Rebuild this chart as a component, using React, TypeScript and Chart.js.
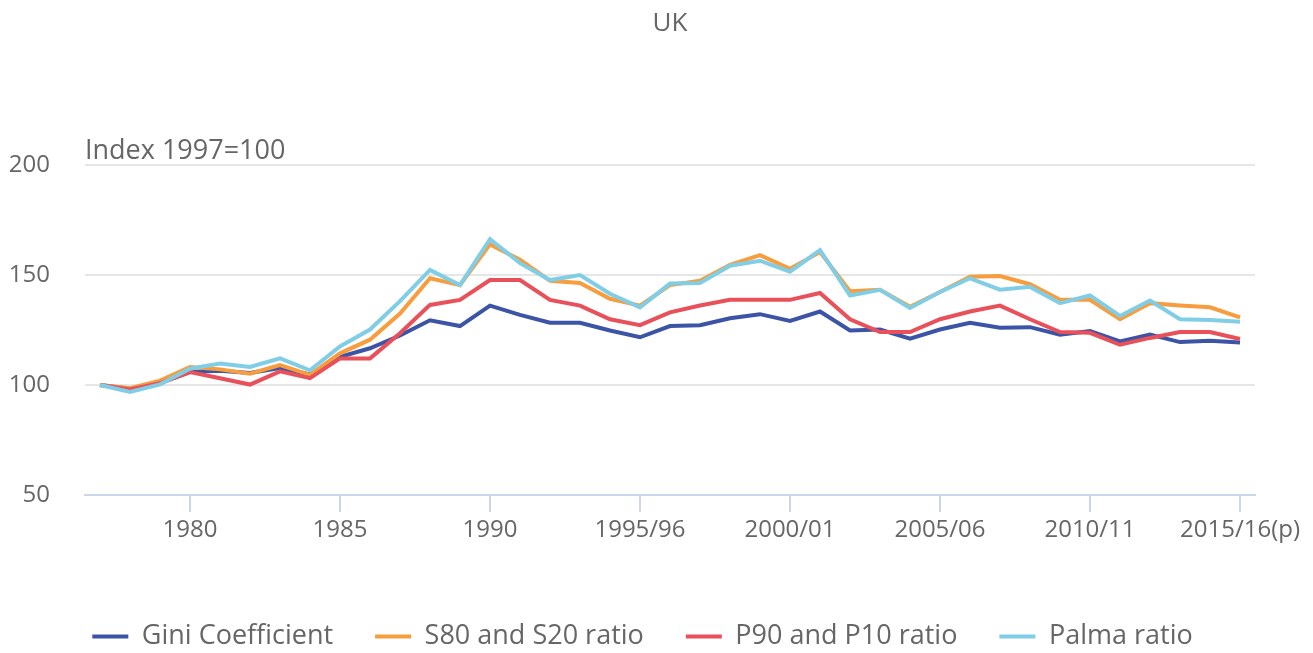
import { useEffect, useRef } from 'react';
import { Chart, registerables } from 'chart.js';

Chart.register(...registerables);

const chartTitle = 'UK';
const yAxisLabel = 'Index 1997=100';

const categories = [
  '1977', '1978', '1979', '1980', '1981', '1982', '1983', '1984', '1985', '1986',
  '1987', '1988', '1989', '1990', '1991', '1992', '1993', '1994/95', '1995/96', '1996/97',
  '1997/98', '1998/99', '1999/00', '2000/01', '2001/02', '2002/03', '2003/04', '2004/05', '2005/06', '2006/07',
  '2007/08', '2008/09', '2009/10', '2010/11', '2011/12', '2012/13', '2013/14', '2014/15', '2015/16(p)',
];

const tickLabels = ['1980', '1985', '1990', '1995/96', '2000/01', '2005/06', '2010/11', '2015/16(p)'];

const gini = [
  100, 98.3, 101, 105.9, 106.5, 105.5, 107.7, 104.8, 112.8, 116.7,
  122.5, 129.4, 126.8, 136.1, 131.9, 128.3, 128.3, 124.8, 121.7, 126.8,
  127.2, 130.3, 132.2, 129.1, 133.4, 124.8, 125.2, 121.1, 125.2, 128.3,
  126, 126.3, 122.9, 124.5, 119.8, 122.9, 119.5, 120.1, 119.3,
];

const s80s20 = [
  100, 98.5, 102, 108.2, 107.1, 105.1, 109, 104.6, 114.4, 120.6,
  132.5, 148.5, 145.4, 163.9, 157, 147.4, 146.4, 139.2, 136.1, 145.4,
  147.4, 154.6, 159, 152.8, 160.4, 142.6, 143.3, 135.6, 142.3, 149.2,
  149.5, 145.8, 138.7, 138.7, 129.9, 137.2, 136.1, 135.3, 130.7,
];

const p90p10 = [
  100, 98, 100.8, 105.9, 103.1, 100.2, 106.2, 103.1, 112.1, 112.1,
  123.5, 136.4, 138.7, 147.7, 147.7, 138.7, 136.1, 129.9, 127.2, 133,
  136.1, 138.7, 138.7, 138.7, 141.8, 129.9, 124.1, 124.1, 129.9, 133.4,
  136.1, 129.9, 124.1, 123.7, 118.3, 121.4, 124.1, 124.1, 120.9,
];

const palma = [
  100, 96.8, 100.3, 107.4, 109.8, 108.2, 112.1, 106.7, 117.5, 125.2,
  138.1, 152.3, 145.4, 166.3, 155.4, 147.7, 150, 141.5, 135.3, 146.1,
  146.4, 154.2, 156.5, 151.5, 161.3, 140.7, 143.3, 135, 142.3, 148.5,
  143.3, 144.6, 137.2, 140.7, 131.4, 138.4, 129.9, 129.6, 128.8,
];

const seriesNames = ['Gini Coefficient', 'S80 and S20 ratio', 'P90 and P10 ratio', 'Palma ratio'];
const seriesColors = ['#3b54a5', '#f79d3d', '#e8505a', '#80cde6'];

const FONT = "'Open Sans', sans-serif";
const TEXT = '#666666';
const W = 1313;
const H = 660;

const indexLabelPlugin = {
  id: 'indexLabel',
  afterDraw(chart: any) {
    const { ctx, chartArea } = chart;
    ctx.save();
    ctx.font = `27px ${FONT}`;
    ctx.fillStyle = TEXT;
    ctx.textAlign = 'left';
    ctx.textBaseline = 'alphabetic';
    ctx.fillText(yAxisLabel, chartArea.left, chartArea.top - 6);
    ctx.restore();
  },
};

export default function App() {
  const ref = useRef<HTMLCanvasElement | null>(null);

  useEffect(() => {
    document.body.style.margin = '0';
    document.body.style.overflow = 'hidden';
    const canvas = ref.current;
    if (!canvas) return;
    const allSeries = [gini, s80s20, p90p10, palma];
    const chart = new Chart(canvas, {
      type: 'line',
      data: {
        labels: categories,
        datasets: allSeries.map((d, i) => ({
          label: seriesNames[i],
          data: d,
          borderColor: seriesColors[i],
          backgroundColor: seriesColors[i],
          borderWidth: 4,
          pointRadius: 0,
          pointHoverRadius: 0,
          tension: 0,
          fill: false,
          order: 4 - i,
        })),
      },
      options: {
        responsive: false,
        animation: false,
        layout: { padding: { left: 0, right: 28, top: 0, bottom: 0 } },
        plugins: {
          title: {
            display: true,
            text: chartTitle,
            fullSize: false,
            color: TEXT,
            font: { family: FONT, size: 26, weight: 'normal' },
            padding: { top: 8, bottom: 125.8 },
          },
          legend: {
            position: 'bottom',
            labels: {
              boxWidth: 36,
              boxHeight: 4,
              padding: 42,
              color: TEXT,
              font: { family: FONT, size: 27 },
              generateLabels: (c: any) =>
                c.data.datasets.map((ds: any, i: number) => ({
                  text: ds.label,
                  fillStyle: ds.borderColor,
                  strokeStyle: ds.borderColor,
                  lineWidth: 0,
                  hidden: false,
                  datasetIndex: i,
                  fontColor: TEXT,
                })),
            },
          },
          tooltip: { enabled: false },
        },
        scales: {
          x: {
            type: 'category',
            offset: true,
            grid: {
              offset: false,
              drawOnChartArea: false,
              drawTicks: true,
              tickLength: 17,
              lineWidth: 2,
              color: (ctx: any) => (ctx.index % 5 === 3 ? '#ccd6eb' : 'rgba(0,0,0,0)'),
            },
            border: { display: true, color: '#ccd6eb', width: 2 },
            ticks: {
              autoSkip: false,
              maxRotation: 0,
              minRotation: 0,
              padding: 4,
              color: TEXT,
              font: { family: FONT, size: 24 },
              callback: (_v: any, idx: number) => (idx % 5 === 3 ? tickLabels[(idx - 3) / 5] : ''),
            },
            afterFit: (scale: any) => {
              scale.paddingLeft = 0;
              scale.paddingRight = 58;
              scale.height = 86;
            },
          },
          y: {
            min: 50,
            max: 200,
            grid: {
              drawTicks: false,
              lineWidth: 2,
              color: (ctx: any) => (ctx.tick && ctx.tick.value === 50 ? 'rgba(0,0,0,0)' : '#e6e6e6'),
            },
            border: { display: false },
            ticks: {
              stepSize: 50,
              padding: 35,
              color: TEXT,
              font: { family: FONT, size: 24 },
            },
            afterFit: (scale: any) => {
              scale.width = 85;
            },
          },
        },
      },
      plugins: [indexLabelPlugin],
    });
    return () => chart.destroy();
  }, []);

  return (
    <div style={{ position: 'fixed', left: 0, top: 0, width: W, height: H }}>
      <canvas ref={ref} width={W} height={H} style={{ display: 'block' }} />
    </div>
  );
}
